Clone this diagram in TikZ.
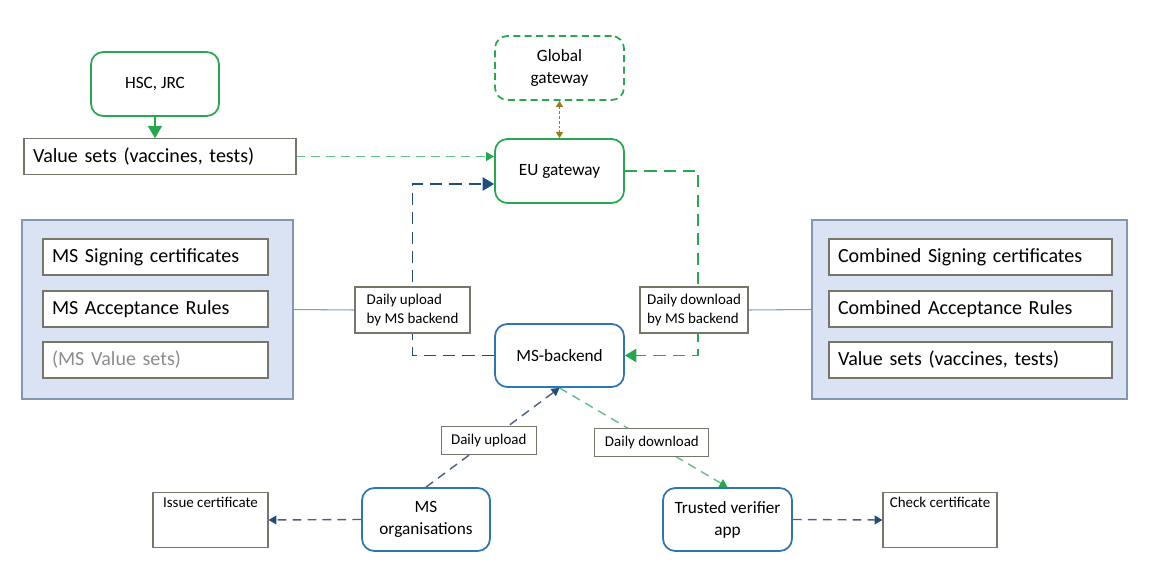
\documentclass[tikz,border=0pt]{standalone}
\usepackage{fontspec}
\setmainfont{Carlito}
\usetikzlibrary{arrows.meta,backgrounds}

\definecolor{gwgreen}{HTML}{27A84F}
\definecolor{lightgreen}{HTML}{5FC08A}
\definecolor{msblue}{HTML}{2E75B6}
\definecolor{darkblue}{HTML}{1F4E79}
\definecolor{slateblue}{HTML}{4A5F7E}
\definecolor{panelfill}{HTML}{DAE3F3}
\definecolor{paneldraw}{HTML}{8497B0}
\definecolor{boxdraw}{HTML}{76766A}
\definecolor{linkblue}{HTML}{6AA6D8}
\definecolor{gwbrown}{HTML}{9C7A1E}
\definecolor{greytext}{HTML}{8C8C8C}

\begin{document}
\begin{tikzpicture}[
  font=\fontsize{9.8}{12.5}\selectfont,
  gwbox/.style={draw=gwgreen, line width=1pt, rounded corners=7pt, align=center, minimum width=2.58cm, minimum height=1.28cm, fill=white},
  msbox/.style={draw=msblue, line width=1pt, rounded corners=7pt, align=center, minimum width=2.58cm, minimum height=1.26cm, fill=white},
  panel/.style={draw=paneldraw, fill=panelfill, line width=0.6pt, minimum height=3.58cm},
  item/.style={draw=boxdraw, fill=white, line width=0.6pt, align=left, inner sep=0.18cm, minimum height=0.72cm, font=\fontsize{11.4}{13.5}\selectfont},
  lbl/.style={draw=boxdraw, fill=white, solid, line width=0.6pt, align=left, inner sep=0.12cm, font=\fontsize{8.5}{10.4}\selectfont},
  task/.style={draw=boxdraw, fill=white, line width=0.6pt, align=center, minimum height=0.92cm, inner sep=0.1cm, font=\fontsize{8.5}{11}\selectfont},
  bigtip/.style={-{Triangle[width=7.5pt,length=6.5pt]}},
  upflow/.style={bigtip, draw=darkblue, line width=1.1pt, dash pattern=on 7pt off 4pt},
  downflow/.style={bigtip, draw=gwgreen, line width=1.1pt, dash pattern=on 7pt off 4pt},
  thinflow/.style={-{Triangle[width=5pt,length=4.5pt,color=#1]}, line width=0.8pt, dash pattern=on 5pt off 3.5pt},
  link/.style={draw=linkblue, line width=0.6pt}
]
\useasboundingbox (0,0) rectangle (22.98,-11.64);

% sources
\node[gwbox, minimum width=2.56cm] (hsc) at (3.1,-1.68) {HSC, JRC};
\node[item, text width=5.08cm, minimum height=0.7cm] (valsets) at (3.2,-3.13) {Value sets (vaccines, tests)};

% gateways
\node[gwbox, dashed, dash pattern=on 4pt off 2.5pt] (global) at (11.19,-1.36) {Global\\gateway};
\node[gwbox] (eugw) at (11.19,-3.42) {EU gateway};
\node[msbox] (backend) at (11.19,-7.11) {MS-backend};

% data panels
\node[panel, minimum width=5.42cm] (lpanel) at (3.15,-6.19) {};
\node[item, text width=4.14cm] (lsign) at (3.11,-5.14) {MS Signing certificates};
\node[item, text width=4.14cm] (lrules) at (3.11,-6.18) {MS Acceptance Rules};
\node[item, text width=4.14cm, text=greytext] (lvals) at (3.11,-7.2) {(MS Value sets)};

\node[panel, minimum width=6.3cm] (rpanel) at (19.39,-6.19) {};
\node[item, text width=5.3cm] (rsign) at (19.41,-5.14) {Combined Signing certificates};
\node[item, text width=5.3cm] (rrules) at (19.41,-6.18) {Combined Acceptance Rules};
\node[item, text width=5.3cm] (rvals) at (19.41,-7.2) {Value sets (vaccines, tests)};

% labels on the backend links
\node[lbl, minimum width=2.3cm, minimum height=0.92cm] (uplbl) at (8.25,-6.2) {Daily upload\\by MS backend};
\node[lbl, minimum width=2.16cm, minimum height=0.92cm] (dnlbl) at (13.88,-6.2) {Daily download\\by MS backend};

% apps
\node[msbox, minimum width=2.56cm] (msorg) at (8.52,-10.39) {MS\\organisations};
\node[msbox] (verifier) at (14.55,-10.39) {Trusted verifier\\app};
\node[task, minimum width=2.3cm] (issue) at (4.21,-10.4) {Issue certificate\\[9pt]\mbox{}};
\node[task, minimum width=2.28cm] (check) at (18.8,-10.4) {Check certificate\\[9pt]\mbox{}};

\begin{scope}[on background layer]
\draw[draw=gwgreen, line width=0.8pt, -{Triangle[width=8pt,length=7pt]}] (hsc.south) -- (hsc.south |- valsets.north);
\draw[thinflow=gwgreen, draw=lightgreen] (valsets.east) -- (valsets.east -| eugw.west);
\draw[draw=gwbrown, line width=0.7pt, dash pattern=on 1.5pt off 1.2pt, {Triangle[width=4pt,length=3.5pt]}-{Triangle[width=4pt,length=3.5pt]}] (global.south) -- (eugw.north);
\draw[upflow] (backend.west) -| (uplbl.center) |- ([yshift=-0.26cm]eugw.west);
\draw[downflow] (eugw.east) -| ([xshift=0.08cm]dnlbl.center) |- (backend.east);
\draw[link] (lpanel.east) -- (uplbl.west);
\draw[link] (dnlbl.east) -- (rpanel.west);
\draw[thinflow=darkblue, draw=slateblue] (msorg.north) -- node[lbl, pos=0.47, align=center, minimum width=1.9cm, minimum height=0.56cm, font=\fontsize{8.5}{10}\selectfont] (updaily) {Daily upload} (backend.south);
\draw[thinflow=gwgreen, draw=lightgreen] (backend.south) -- node[lbl, pos=0.55, align=center, minimum width=2.28cm, minimum height=0.56cm, font=\fontsize{8.5}{10}\selectfont] (dndaily) {Daily download} (verifier.north);
\draw[thinflow=darkblue, draw=slateblue] (msorg.west) -- (issue.east);
\draw[thinflow=darkblue, draw=slateblue] (verifier.east) -- (check.west);
\end{scope}
\end{tikzpicture}
\end{document}
